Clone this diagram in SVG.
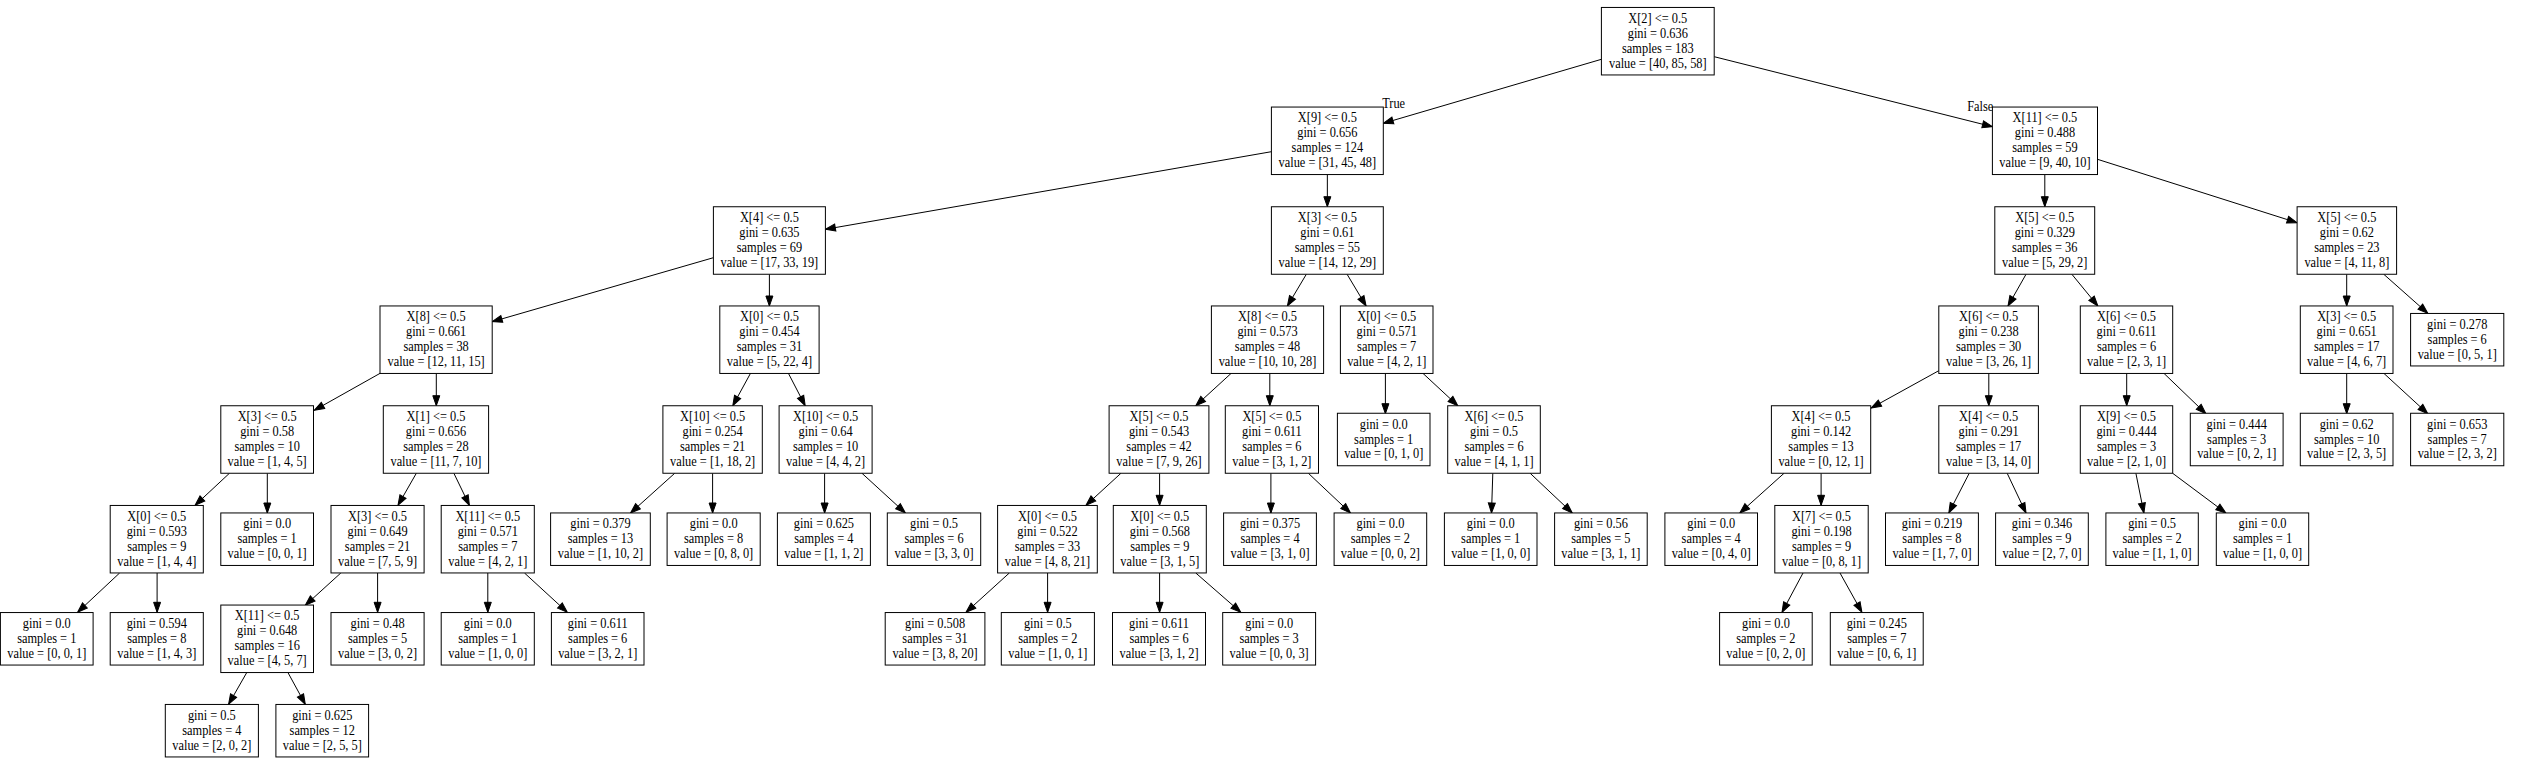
<svg xmlns="http://www.w3.org/2000/svg" width="2527" height="773" viewBox="0 0 2527 773">
<style>
.node rect{fill:#fff;stroke:#000;stroke-width:1}
text{font-family:"Liberation Serif","Times New Roman",serif;font-size:14px;text-anchor:middle;fill:#000}
#edges line{stroke:#000;stroke-width:1;marker-end:url(#arr)}
</style>
<defs>
<marker id="arr" markerUnits="userSpaceOnUse" markerWidth="12" markerHeight="9" refX="10" refY="3.5" orient="auto" overflow="visible">
<path d="M0,0 L10,3.5 L0,7 z" fill="#000" stroke="#000" stroke-width="1"/>
</marker>
</defs>
<rect x="0" y="0" width="2527" height="773" fill="#fff"/>
<g id="edges">
<line x1="1601.4" y1="59.3" x2="1383.3" y2="123.3"/>
<line x1="1714.2" y1="56.7" x2="1992.4" y2="126.7"/>
<line x1="1271.4" y1="151.7" x2="825.4" y2="229.3"/>
<line x1="1327.35" y1="174.6" x2="1327.35" y2="206.7"/>
<line x1="2044.8" y1="174.6" x2="2044.8" y2="206.7"/>
<line x1="2097.5" y1="159.3" x2="2297.1" y2="222.7"/>
<line x1="713.4" y1="257.7" x2="492.2" y2="321.7"/>
<line x1="769.4" y1="274.3" x2="769.4" y2="306"/>
<line x1="1306.3" y1="274.3" x2="1287.4" y2="306"/>
<line x1="1347.1" y1="274.3" x2="1366.1" y2="306"/>
<line x1="2026" y1="274.3" x2="2008" y2="306"/>
<line x1="2071.9" y1="274.3" x2="2097.9" y2="306"/>
<line x1="2346.7" y1="274.3" x2="2346.7" y2="306"/>
<line x1="2383.8" y1="274.3" x2="2427.8" y2="313.3"/>
<line x1="381" y1="372.8" x2="314.3" y2="410.3"/>
<line x1="436.3" y1="373.5" x2="436.3" y2="405.7"/>
<line x1="750.5" y1="373.3" x2="732.8" y2="405.7"/>
<line x1="788.4" y1="373.3" x2="805.2" y2="405.7"/>
<line x1="1231.2" y1="373.3" x2="1195.8" y2="405.7"/>
<line x1="1269.8" y1="373.5" x2="1269.8" y2="405.7"/>
<line x1="1385.4" y1="373.5" x2="1385.4" y2="413.7"/>
<line x1="1422.9" y1="373.3" x2="1457.8" y2="405.7"/>
<line x1="1938.8" y1="370.7" x2="1871.2" y2="408"/>
<line x1="1988.8" y1="373.5" x2="1988.8" y2="405.7"/>
<line x1="2126.7" y1="373.5" x2="2126.7" y2="405.7"/>
<line x1="2163.9" y1="373.3" x2="2205.9" y2="413.7"/>
<line x1="2346.7" y1="373.5" x2="2346.7" y2="413.7"/>
<line x1="2383.8" y1="373.3" x2="2427.8" y2="413.7"/>
<line x1="229.4" y1="473.3" x2="195.1" y2="505.3"/>
<line x1="267.3" y1="473.3" x2="267.3" y2="513"/>
<line x1="416.3" y1="473.3" x2="398" y2="505.3"/>
<line x1="453.9" y1="473.3" x2="469.4" y2="505.3"/>
<line x1="674.7" y1="473.3" x2="630.5" y2="513"/>
<line x1="712.6" y1="473.3" x2="712.6" y2="513"/>
<line x1="824.6" y1="473.3" x2="824.6" y2="513"/>
<line x1="862" y1="473.3" x2="905.4" y2="513"/>
<line x1="1120.9" y1="473.3" x2="1086" y2="505.3"/>
<line x1="1159.6" y1="473.3" x2="1159.6" y2="505.3"/>
<line x1="1270.9" y1="473.3" x2="1270.9" y2="513"/>
<line x1="1308.4" y1="473.3" x2="1350.5" y2="513"/>
<line x1="1492.8" y1="473.3" x2="1491.5" y2="513"/>
<line x1="1530.2" y1="473.3" x2="1572.3" y2="513"/>
<line x1="1784" y1="473.3" x2="1739.8" y2="513"/>
<line x1="1821.1" y1="473.3" x2="1821.1" y2="505.3"/>
<line x1="1969.2" y1="473.3" x2="1948.8" y2="513"/>
<line x1="2007.2" y1="473.3" x2="2026" y2="513"/>
<line x1="2135.9" y1="473.3" x2="2143.9" y2="513"/>
<line x1="2172.7" y1="473.3" x2="2225.9" y2="513"/>
<line x1="119.6" y1="573" x2="77.6" y2="612.3"/>
<line x1="157.1" y1="573" x2="157.1" y2="612.3"/>
<line x1="340.8" y1="573" x2="305.3" y2="605.3"/>
<line x1="377.6" y1="573" x2="377.6" y2="612.3"/>
<line x1="487.8" y1="573" x2="487.8" y2="612.3"/>
<line x1="524.5" y1="573" x2="567.3" y2="612.3"/>
<line x1="1009.3" y1="573" x2="966" y2="612.3"/>
<line x1="1047.6" y1="573" x2="1047.6" y2="612.3"/>
<line x1="1159.6" y1="573" x2="1159.6" y2="612.3"/>
<line x1="1195.8" y1="573" x2="1240.8" y2="612.3"/>
<line x1="1803" y1="573" x2="1782" y2="612.3"/>
<line x1="1840" y1="573" x2="1861.9" y2="612.3"/>
<line x1="246.9" y1="672.3" x2="228.6" y2="704.3"/>
<line x1="287.8" y1="672.3" x2="305.3" y2="704.3"/>
<text transform="translate(1393.6 108.3) scale(0.884 1)">True</text>
<text transform="translate(1980.2 111.3) scale(0.884 1)">False</text>
</g>
<g id="n0" class="node" transform="translate(1657.8 41.2)"><rect x="-56.4" y="-33.75" width="112.8" height="67.5"/><text transform="scale(0.884 1)"><tspan x="0" y="-18.5">X[2] &lt;= 0.5</tspan><tspan x="0" y="-3.5">gini = 0.636</tspan><tspan x="0" y="11.5">samples = 183</tspan><tspan x="0" y="26.5">value = [40, 85, 58]</tspan></text></g>
<g id="n1" class="node" transform="translate(1327.35 140.8)"><rect x="-55.95" y="-33.75" width="111.9" height="67.5"/><text transform="scale(0.884 1)"><tspan x="0" y="-18.5">X[9] &lt;= 0.5</tspan><tspan x="0" y="-3.5">gini = 0.656</tspan><tspan x="0" y="11.5">samples = 124</tspan><tspan x="0" y="26.5">value = [31, 45, 48]</tspan></text></g>
<g id="n2" class="node" transform="translate(2044.95 140.8)"><rect x="-52.55" y="-33.75" width="105.1" height="67.5"/><text transform="scale(0.884 1)"><tspan x="0" y="-18.5">X[11] &lt;= 0.5</tspan><tspan x="0" y="-3.5">gini = 0.488</tspan><tspan x="0" y="11.5">samples = 59</tspan><tspan x="0" y="26.5">value = [9, 40, 10]</tspan></text></g>
<g id="n3" class="node" transform="translate(769.4 240.5)"><rect x="-56" y="-33.75" width="112" height="67.5"/><text transform="scale(0.884 1)"><tspan x="0" y="-18.5">X[4] &lt;= 0.5</tspan><tspan x="0" y="-3.5">gini = 0.635</tspan><tspan x="0" y="11.5">samples = 69</tspan><tspan x="0" y="26.5">value = [17, 33, 19]</tspan></text></g>
<g id="n4" class="node" transform="translate(1327.35 240.5)"><rect x="-55.95" y="-33.75" width="111.9" height="67.5"/><text transform="scale(0.884 1)"><tspan x="0" y="-18.5">X[3] &lt;= 0.5</tspan><tspan x="0" y="-3.5">gini = 0.61</tspan><tspan x="0" y="11.5">samples = 55</tspan><tspan x="0" y="26.5">value = [14, 12, 29]</tspan></text></g>
<g id="n5" class="node" transform="translate(2044.75 240.5)"><rect x="-49.95" y="-33.75" width="99.9" height="67.5"/><text transform="scale(0.884 1)"><tspan x="0" y="-18.5">X[5] &lt;= 0.5</tspan><tspan x="0" y="-3.5">gini = 0.329</tspan><tspan x="0" y="11.5">samples = 36</tspan><tspan x="0" y="26.5">value = [5, 29, 2]</tspan></text></g>
<g id="n6" class="node" transform="translate(2346.85 240.5)"><rect x="-49.75" y="-33.75" width="99.5" height="67.5"/><text transform="scale(0.884 1)"><tspan x="0" y="-18.5">X[5] &lt;= 0.5</tspan><tspan x="0" y="-3.5">gini = 0.62</tspan><tspan x="0" y="11.5">samples = 23</tspan><tspan x="0" y="26.5">value = [4, 11, 8]</tspan></text></g>
<g id="n7" class="node" transform="translate(436.1 339.7)"><rect x="-56.1" y="-33.75" width="112.2" height="67.5"/><text transform="scale(0.884 1)"><tspan x="0" y="-18.5">X[8] &lt;= 0.5</tspan><tspan x="0" y="-3.5">gini = 0.661</tspan><tspan x="0" y="11.5">samples = 38</tspan><tspan x="0" y="26.5">value = [12, 11, 15]</tspan></text></g>
<g id="n8" class="node" transform="translate(769.45 339.7)"><rect x="-49.65" y="-33.75" width="99.3" height="67.5"/><text transform="scale(0.884 1)"><tspan x="0" y="-18.5">X[0] &lt;= 0.5</tspan><tspan x="0" y="-3.5">gini = 0.454</tspan><tspan x="0" y="11.5">samples = 31</tspan><tspan x="0" y="26.5">value = [5, 22, 4]</tspan></text></g>
<g id="n9" class="node" transform="translate(1267.5 339.7)"><rect x="-56.1" y="-33.75" width="112.2" height="67.5"/><text transform="scale(0.884 1)"><tspan x="0" y="-18.5">X[8] &lt;= 0.5</tspan><tspan x="0" y="-3.5">gini = 0.573</tspan><tspan x="0" y="11.5">samples = 48</tspan><tspan x="0" y="26.5">value = [10, 10, 28]</tspan></text></g>
<g id="n10" class="node" transform="translate(1386.7 339.7)"><rect x="-46.3" y="-33.75" width="92.6" height="67.5"/><text transform="scale(0.884 1)"><tspan x="0" y="-18.5">X[0] &lt;= 0.5</tspan><tspan x="0" y="-3.5">gini = 0.571</tspan><tspan x="0" y="11.5">samples = 7</tspan><tspan x="0" y="26.5">value = [4, 2, 1]</tspan></text></g>
<g id="n11" class="node" transform="translate(1988.6 339.7)"><rect x="-49.8" y="-33.75" width="99.6" height="67.5"/><text transform="scale(0.884 1)"><tspan x="0" y="-18.5">X[6] &lt;= 0.5</tspan><tspan x="0" y="-3.5">gini = 0.238</tspan><tspan x="0" y="11.5">samples = 30</tspan><tspan x="0" y="26.5">value = [3, 26, 1]</tspan></text></g>
<g id="n12" class="node" transform="translate(2126.5 339.7)"><rect x="-46.2" y="-33.75" width="92.4" height="67.5"/><text transform="scale(0.884 1)"><tspan x="0" y="-18.5">X[6] &lt;= 0.5</tspan><tspan x="0" y="-3.5">gini = 0.611</tspan><tspan x="0" y="11.5">samples = 6</tspan><tspan x="0" y="26.5">value = [2, 3, 1]</tspan></text></g>
<g id="n13" class="node" transform="translate(2346.65 339.7)"><rect x="-46.35" y="-33.75" width="92.7" height="67.5"/><text transform="scale(0.884 1)"><tspan x="0" y="-18.5">X[3] &lt;= 0.5</tspan><tspan x="0" y="-3.5">gini = 0.651</tspan><tspan x="0" y="11.5">samples = 17</tspan><tspan x="0" y="26.5">value = [4, 6, 7]</tspan></text></g>
<g id="n14" class="node" transform="translate(2457.2 339.7)"><rect x="-46.6" y="-26.25" width="93.2" height="52.5"/><text transform="scale(0.884 1)"><tspan x="0" y="-11">gini = 0.278</tspan><tspan x="0" y="4">samples = 6</tspan><tspan x="0" y="19">value = [0, 5, 1]</tspan></text></g>
<g id="n15" class="node" transform="translate(267.15 439.5)"><rect x="-46.35" y="-33.75" width="92.7" height="67.5"/><text transform="scale(0.884 1)"><tspan x="0" y="-18.5">X[3] &lt;= 0.5</tspan><tspan x="0" y="-3.5">gini = 0.58</tspan><tspan x="0" y="11.5">samples = 10</tspan><tspan x="0" y="26.5">value = [1, 4, 5]</tspan></text></g>
<g id="n16" class="node" transform="translate(435.95 439.5)"><rect x="-52.65" y="-33.75" width="105.3" height="67.5"/><text transform="scale(0.884 1)"><tspan x="0" y="-18.5">X[1] &lt;= 0.5</tspan><tspan x="0" y="-3.5">gini = 0.656</tspan><tspan x="0" y="11.5">samples = 28</tspan><tspan x="0" y="26.5">value = [11, 7, 10]</tspan></text></g>
<g id="n17" class="node" transform="translate(712.6 439.5)"><rect x="-49.7" y="-33.75" width="99.4" height="67.5"/><text transform="scale(0.884 1)"><tspan x="0" y="-18.5">X[10] &lt;= 0.5</tspan><tspan x="0" y="-3.5">gini = 0.254</tspan><tspan x="0" y="11.5">samples = 21</tspan><tspan x="0" y="26.5">value = [1, 18, 2]</tspan></text></g>
<g id="n18" class="node" transform="translate(825.6 439.5)"><rect x="-46.5" y="-33.75" width="93" height="67.5"/><text transform="scale(0.884 1)"><tspan x="0" y="-18.5">X[10] &lt;= 0.5</tspan><tspan x="0" y="-3.5">gini = 0.64</tspan><tspan x="0" y="11.5">samples = 10</tspan><tspan x="0" y="26.5">value = [4, 4, 2]</tspan></text></g>
<g id="n19" class="node" transform="translate(1159 439.5)"><rect x="-49.9" y="-33.75" width="99.8" height="67.5"/><text transform="scale(0.884 1)"><tspan x="0" y="-18.5">X[5] &lt;= 0.5</tspan><tspan x="0" y="-3.5">gini = 0.543</tspan><tspan x="0" y="11.5">samples = 42</tspan><tspan x="0" y="26.5">value = [7, 9, 26]</tspan></text></g>
<g id="n20" class="node" transform="translate(1271.9 439.5)"><rect x="-46.6" y="-33.75" width="93.2" height="67.5"/><text transform="scale(0.884 1)"><tspan x="0" y="-18.5">X[5] &lt;= 0.5</tspan><tspan x="0" y="-3.5">gini = 0.611</tspan><tspan x="0" y="11.5">samples = 6</tspan><tspan x="0" y="26.5">value = [3, 1, 2]</tspan></text></g>
<g id="n21" class="node" transform="translate(1383.7 439.5)"><rect x="-46.3" y="-26.25" width="92.6" height="52.5"/><text transform="scale(0.884 1)"><tspan x="0" y="-11">gini = 0.0</tspan><tspan x="0" y="4">samples = 1</tspan><tspan x="0" y="19">value = [0, 1, 0]</tspan></text></g>
<g id="n22" class="node" transform="translate(1494 439.5)"><rect x="-46.3" y="-33.75" width="92.6" height="67.5"/><text transform="scale(0.884 1)"><tspan x="0" y="-18.5">X[6] &lt;= 0.5</tspan><tspan x="0" y="-3.5">gini = 0.5</tspan><tspan x="0" y="11.5">samples = 6</tspan><tspan x="0" y="26.5">value = [4, 1, 1]</tspan></text></g>
<g id="n23" class="node" transform="translate(1821.05 439.5)"><rect x="-49.65" y="-33.75" width="99.3" height="67.5"/><text transform="scale(0.884 1)"><tspan x="0" y="-18.5">X[4] &lt;= 0.5</tspan><tspan x="0" y="-3.5">gini = 0.142</tspan><tspan x="0" y="11.5">samples = 13</tspan><tspan x="0" y="26.5">value = [0, 12, 1]</tspan></text></g>
<g id="n24" class="node" transform="translate(1988.6 439.5)"><rect x="-49.8" y="-33.75" width="99.6" height="67.5"/><text transform="scale(0.884 1)"><tspan x="0" y="-18.5">X[4] &lt;= 0.5</tspan><tspan x="0" y="-3.5">gini = 0.291</tspan><tspan x="0" y="11.5">samples = 17</tspan><tspan x="0" y="26.5">value = [3, 14, 0]</tspan></text></g>
<g id="n25" class="node" transform="translate(2126.5 439.5)"><rect x="-46.2" y="-33.75" width="92.4" height="67.5"/><text transform="scale(0.884 1)"><tspan x="0" y="-18.5">X[9] &lt;= 0.5</tspan><tspan x="0" y="-3.5">gini = 0.444</tspan><tspan x="0" y="11.5">samples = 3</tspan><tspan x="0" y="26.5">value = [2, 1, 0]</tspan></text></g>
<g id="n26" class="node" transform="translate(2236.7 439.5)"><rect x="-46.4" y="-26.25" width="92.8" height="52.5"/><text transform="scale(0.884 1)"><tspan x="0" y="-11">gini = 0.444</tspan><tspan x="0" y="4">samples = 3</tspan><tspan x="0" y="19">value = [0, 2, 1]</tspan></text></g>
<g id="n27" class="node" transform="translate(2346.65 439.5)"><rect x="-46.35" y="-26.25" width="92.7" height="52.5"/><text transform="scale(0.884 1)"><tspan x="0" y="-11">gini = 0.62</tspan><tspan x="0" y="4">samples = 10</tspan><tspan x="0" y="19">value = [2, 3, 5]</tspan></text></g>
<g id="n28" class="node" transform="translate(2457.2 439.5)"><rect x="-46.6" y="-26.25" width="93.2" height="52.5"/><text transform="scale(0.884 1)"><tspan x="0" y="-11">gini = 0.653</tspan><tspan x="0" y="4">samples = 7</tspan><tspan x="0" y="19">value = [2, 3, 2]</tspan></text></g>
<g id="n29" class="node" transform="translate(156.75 539.2)"><rect x="-46.55" y="-33.75" width="93.1" height="67.5"/><text transform="scale(0.884 1)"><tspan x="0" y="-18.5">X[0] &lt;= 0.5</tspan><tspan x="0" y="-3.5">gini = 0.593</tspan><tspan x="0" y="11.5">samples = 9</tspan><tspan x="0" y="26.5">value = [1, 4, 4]</tspan></text></g>
<g id="n30" class="node" transform="translate(267.15 539.2)"><rect x="-46.35" y="-26.25" width="92.7" height="52.5"/><text transform="scale(0.884 1)"><tspan x="0" y="-11">gini = 0.0</tspan><tspan x="0" y="4">samples = 1</tspan><tspan x="0" y="19">value = [0, 0, 1]</tspan></text></g>
<g id="n31" class="node" transform="translate(377.55 539.2)"><rect x="-46.55" y="-33.75" width="93.1" height="67.5"/><text transform="scale(0.884 1)"><tspan x="0" y="-18.5">X[3] &lt;= 0.5</tspan><tspan x="0" y="-3.5">gini = 0.649</tspan><tspan x="0" y="11.5">samples = 21</tspan><tspan x="0" y="26.5">value = [7, 5, 9]</tspan></text></g>
<g id="n32" class="node" transform="translate(487.75 539.2)"><rect x="-46.55" y="-33.75" width="93.1" height="67.5"/><text transform="scale(0.884 1)"><tspan x="0" y="-18.5">X[11] &lt;= 0.5</tspan><tspan x="0" y="-3.5">gini = 0.571</tspan><tspan x="0" y="11.5">samples = 7</tspan><tspan x="0" y="26.5">value = [4, 2, 1]</tspan></text></g>
<g id="n33" class="node" transform="translate(600.45 539.2)"><rect x="-49.85" y="-26.25" width="99.7" height="52.5"/><text transform="scale(0.884 1)"><tspan x="0" y="-11">gini = 0.379</tspan><tspan x="0" y="4">samples = 13</tspan><tspan x="0" y="19">value = [1, 10, 2]</tspan></text></g>
<g id="n34" class="node" transform="translate(713.65 539.2)"><rect x="-46.55" y="-26.25" width="93.1" height="52.5"/><text transform="scale(0.884 1)"><tspan x="0" y="-11">gini = 0.0</tspan><tspan x="0" y="4">samples = 8</tspan><tspan x="0" y="19">value = [0, 8, 0]</tspan></text></g>
<g id="n35" class="node" transform="translate(823.9 539.2)"><rect x="-46.5" y="-26.25" width="93" height="52.5"/><text transform="scale(0.884 1)"><tspan x="0" y="-11">gini = 0.625</tspan><tspan x="0" y="4">samples = 4</tspan><tspan x="0" y="19">value = [1, 1, 2]</tspan></text></g>
<g id="n36" class="node" transform="translate(934 539.2)"><rect x="-46.7" y="-26.25" width="93.4" height="52.5"/><text transform="scale(0.884 1)"><tspan x="0" y="-11">gini = 0.5</tspan><tspan x="0" y="4">samples = 6</tspan><tspan x="0" y="19">value = [3, 3, 0]</tspan></text></g>
<g id="n37" class="node" transform="translate(1047.45 539.2)"><rect x="-49.85" y="-33.75" width="99.7" height="67.5"/><text transform="scale(0.884 1)"><tspan x="0" y="-18.5">X[0] &lt;= 0.5</tspan><tspan x="0" y="-3.5">gini = 0.522</tspan><tspan x="0" y="11.5">samples = 33</tspan><tspan x="0" y="26.5">value = [4, 8, 21]</tspan></text></g>
<g id="n38" class="node" transform="translate(1159.8 539.2)"><rect x="-46.5" y="-33.75" width="93" height="67.5"/><text transform="scale(0.884 1)"><tspan x="0" y="-18.5">X[0] &lt;= 0.5</tspan><tspan x="0" y="-3.5">gini = 0.568</tspan><tspan x="0" y="11.5">samples = 9</tspan><tspan x="0" y="26.5">value = [3, 1, 5]</tspan></text></g>
<g id="n39" class="node" transform="translate(1270 539.2)"><rect x="-46.4" y="-26.25" width="92.8" height="52.5"/><text transform="scale(0.884 1)"><tspan x="0" y="-11">gini = 0.375</tspan><tspan x="0" y="4">samples = 4</tspan><tspan x="0" y="19">value = [3, 1, 0]</tspan></text></g>
<g id="n40" class="node" transform="translate(1380.4 539.2)"><rect x="-46.3" y="-26.25" width="92.6" height="52.5"/><text transform="scale(0.884 1)"><tspan x="0" y="-11">gini = 0.0</tspan><tspan x="0" y="4">samples = 2</tspan><tspan x="0" y="19">value = [0, 0, 2]</tspan></text></g>
<g id="n41" class="node" transform="translate(1490.7 539.2)"><rect x="-46.3" y="-26.25" width="92.6" height="52.5"/><text transform="scale(0.884 1)"><tspan x="0" y="-11">gini = 0.0</tspan><tspan x="0" y="4">samples = 1</tspan><tspan x="0" y="19">value = [1, 0, 0]</tspan></text></g>
<g id="n42" class="node" transform="translate(1600.9 539.2)"><rect x="-46.3" y="-26.25" width="92.6" height="52.5"/><text transform="scale(0.884 1)"><tspan x="0" y="-11">gini = 0.56</tspan><tspan x="0" y="4">samples = 5</tspan><tspan x="0" y="19">value = [3, 1, 1]</tspan></text></g>
<g id="n43" class="node" transform="translate(1711.2 539.2)"><rect x="-46.3" y="-26.25" width="92.6" height="52.5"/><text transform="scale(0.884 1)"><tspan x="0" y="-11">gini = 0.0</tspan><tspan x="0" y="4">samples = 4</tspan><tspan x="0" y="19">value = [0, 4, 0]</tspan></text></g>
<g id="n44" class="node" transform="translate(1821.5 539.2)"><rect x="-46.7" y="-33.75" width="93.4" height="67.5"/><text transform="scale(0.884 1)"><tspan x="0" y="-18.5">X[7] &lt;= 0.5</tspan><tspan x="0" y="-3.5">gini = 0.198</tspan><tspan x="0" y="11.5">samples = 9</tspan><tspan x="0" y="26.5">value = [0, 8, 1]</tspan></text></g>
<g id="n45" class="node" transform="translate(1931.95 539.2)"><rect x="-46.45" y="-26.25" width="92.9" height="52.5"/><text transform="scale(0.884 1)"><tspan x="0" y="-11">gini = 0.219</tspan><tspan x="0" y="4">samples = 8</tspan><tspan x="0" y="19">value = [1, 7, 0]</tspan></text></g>
<g id="n46" class="node" transform="translate(2041.95 539.2)"><rect x="-46.35" y="-26.25" width="92.7" height="52.5"/><text transform="scale(0.884 1)"><tspan x="0" y="-11">gini = 0.346</tspan><tspan x="0" y="4">samples = 9</tspan><tspan x="0" y="19">value = [2, 7, 0]</tspan></text></g>
<g id="n47" class="node" transform="translate(2152.1 539.2)"><rect x="-46.2" y="-26.25" width="92.4" height="52.5"/><text transform="scale(0.884 1)"><tspan x="0" y="-11">gini = 0.5</tspan><tspan x="0" y="4">samples = 2</tspan><tspan x="0" y="19">value = [1, 1, 0]</tspan></text></g>
<g id="n48" class="node" transform="translate(2262.5 539.2)"><rect x="-46.2" y="-26.25" width="92.4" height="52.5"/><text transform="scale(0.884 1)"><tspan x="0" y="-11">gini = 0.0</tspan><tspan x="0" y="4">samples = 1</tspan><tspan x="0" y="19">value = [1, 0, 0]</tspan></text></g>
<g id="n49" class="node" transform="translate(46.75 638.8)"><rect x="-46.35" y="-26.25" width="92.7" height="52.5"/><text transform="scale(0.884 1)"><tspan x="0" y="-11">gini = 0.0</tspan><tspan x="0" y="4">samples = 1</tspan><tspan x="0" y="19">value = [0, 0, 1]</tspan></text></g>
<g id="n50" class="node" transform="translate(156.75 638.8)"><rect x="-46.55" y="-26.25" width="93.1" height="52.5"/><text transform="scale(0.884 1)"><tspan x="0" y="-11">gini = 0.594</tspan><tspan x="0" y="4">samples = 8</tspan><tspan x="0" y="19">value = [1, 4, 3]</tspan></text></g>
<g id="n51" class="node" transform="translate(267.15 638.8)"><rect x="-46.35" y="-33.75" width="92.7" height="67.5"/><text transform="scale(0.884 1)"><tspan x="0" y="-18.5">X[11] &lt;= 0.5</tspan><tspan x="0" y="-3.5">gini = 0.648</tspan><tspan x="0" y="11.5">samples = 16</tspan><tspan x="0" y="26.5">value = [4, 5, 7]</tspan></text></g>
<g id="n52" class="node" transform="translate(377.55 638.8)"><rect x="-46.55" y="-26.25" width="93.1" height="52.5"/><text transform="scale(0.884 1)"><tspan x="0" y="-11">gini = 0.48</tspan><tspan x="0" y="4">samples = 5</tspan><tspan x="0" y="19">value = [3, 0, 2]</tspan></text></g>
<g id="n53" class="node" transform="translate(487.75 638.8)"><rect x="-46.55" y="-26.25" width="93.1" height="52.5"/><text transform="scale(0.884 1)"><tspan x="0" y="-11">gini = 0.0</tspan><tspan x="0" y="4">samples = 1</tspan><tspan x="0" y="19">value = [1, 0, 0]</tspan></text></g>
<g id="n54" class="node" transform="translate(597.7 638.8)"><rect x="-46.3" y="-26.25" width="92.6" height="52.5"/><text transform="scale(0.884 1)"><tspan x="0" y="-11">gini = 0.611</tspan><tspan x="0" y="4">samples = 6</tspan><tspan x="0" y="19">value = [3, 2, 1]</tspan></text></g>
<g id="n55" class="node" transform="translate(935.05 638.8)"><rect x="-49.85" y="-26.25" width="99.7" height="52.5"/><text transform="scale(0.884 1)"><tspan x="0" y="-11">gini = 0.508</tspan><tspan x="0" y="4">samples = 31</tspan><tspan x="0" y="19">value = [3, 8, 20]</tspan></text></g>
<g id="n56" class="node" transform="translate(1047.85 638.8)"><rect x="-46.55" y="-26.25" width="93.1" height="52.5"/><text transform="scale(0.884 1)"><tspan x="0" y="-11">gini = 0.5</tspan><tspan x="0" y="4">samples = 2</tspan><tspan x="0" y="19">value = [1, 0, 1]</tspan></text></g>
<g id="n57" class="node" transform="translate(1159 638.8)"><rect x="-46.5" y="-26.25" width="93" height="52.5"/><text transform="scale(0.884 1)"><tspan x="0" y="-11">gini = 0.611</tspan><tspan x="0" y="4">samples = 6</tspan><tspan x="0" y="19">value = [3, 1, 2]</tspan></text></g>
<g id="n58" class="node" transform="translate(1269.15 638.8)"><rect x="-46.45" y="-26.25" width="92.9" height="52.5"/><text transform="scale(0.884 1)"><tspan x="0" y="-11">gini = 0.0</tspan><tspan x="0" y="4">samples = 3</tspan><tspan x="0" y="19">value = [0, 0, 3]</tspan></text></g>
<g id="n59" class="node" transform="translate(1765.9 638.8)"><rect x="-46.3" y="-26.25" width="92.6" height="52.5"/><text transform="scale(0.884 1)"><tspan x="0" y="-11">gini = 0.0</tspan><tspan x="0" y="4">samples = 2</tspan><tspan x="0" y="19">value = [0, 2, 0]</tspan></text></g>
<g id="n60" class="node" transform="translate(1876.75 638.8)"><rect x="-46.45" y="-26.25" width="92.9" height="52.5"/><text transform="scale(0.884 1)"><tspan x="0" y="-11">gini = 0.245</tspan><tspan x="0" y="4">samples = 7</tspan><tspan x="0" y="19">value = [0, 6, 1]</tspan></text></g>
<g id="n61" class="node" transform="translate(211.85 730.7)"><rect x="-46.55" y="-26.25" width="93.1" height="52.5"/><text transform="scale(0.884 1)"><tspan x="0" y="-11">gini = 0.5</tspan><tspan x="0" y="4">samples = 4</tspan><tspan x="0" y="19">value = [2, 0, 2]</tspan></text></g>
<g id="n62" class="node" transform="translate(322.25 730.7)"><rect x="-46.35" y="-26.25" width="92.7" height="52.5"/><text transform="scale(0.884 1)"><tspan x="0" y="-11">gini = 0.625</tspan><tspan x="0" y="4">samples = 12</tspan><tspan x="0" y="19">value = [2, 5, 5]</tspan></text></g>
</svg>
